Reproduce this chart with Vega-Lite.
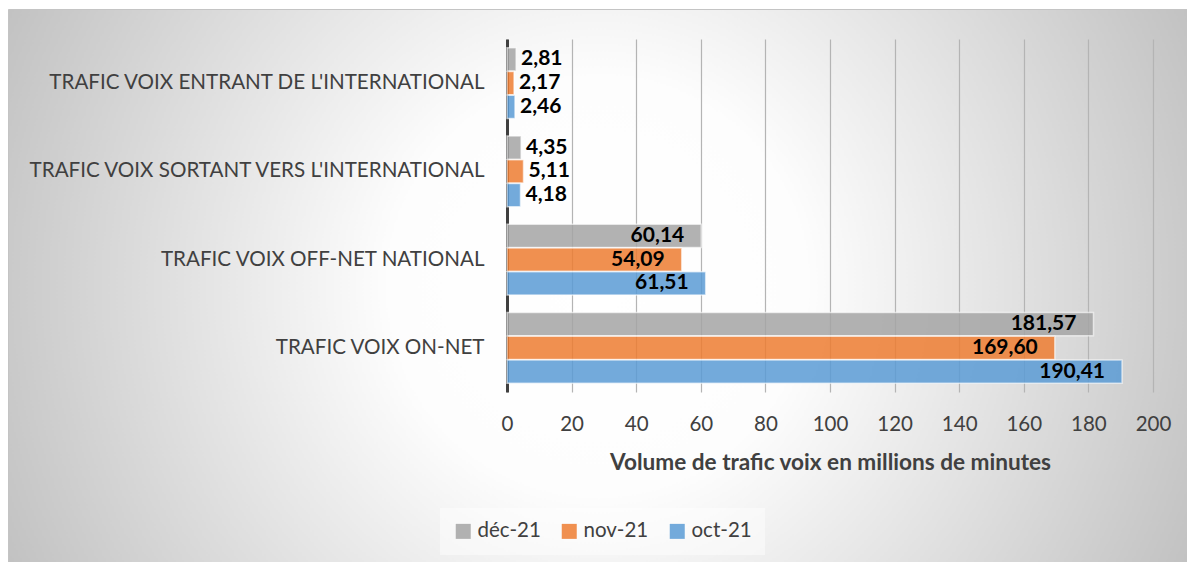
{
  "$schema": "https://vega.github.io/schema/vega-lite/v6.json",
  "width": 1179,
  "height": 553,
  "autosize": "none",
  "padding": {"left": 8, "top": 9, "right": 0, "bottom": 0},
  "background": "#ffffff",
  "data": {
    "values": [
      {"categorie": "TRAFIC VOIX ENTRANT DE L'INTERNATIONAL", "periode": "déc-21", "valeur": 2.81},
      {"categorie": "TRAFIC VOIX ENTRANT DE L'INTERNATIONAL", "periode": "nov-21", "valeur": 2.17},
      {"categorie": "TRAFIC VOIX ENTRANT DE L'INTERNATIONAL", "periode": "oct-21", "valeur": 2.46},
      {"categorie": "TRAFIC VOIX SORTANT VERS L'INTERNATIONAL", "periode": "déc-21", "valeur": 4.35},
      {"categorie": "TRAFIC VOIX SORTANT VERS L'INTERNATIONAL", "periode": "nov-21", "valeur": 5.11},
      {"categorie": "TRAFIC VOIX SORTANT VERS L'INTERNATIONAL", "periode": "oct-21", "valeur": 4.18},
      {"categorie": "TRAFIC VOIX OFF-NET NATIONAL", "periode": "déc-21", "valeur": 60.14},
      {"categorie": "TRAFIC VOIX OFF-NET NATIONAL", "periode": "nov-21", "valeur": 54.09},
      {"categorie": "TRAFIC VOIX OFF-NET NATIONAL", "periode": "oct-21", "valeur": 61.51},
      {"categorie": "TRAFIC VOIX ON-NET", "periode": "déc-21", "valeur": 181.57},
      {"categorie": "TRAFIC VOIX ON-NET", "periode": "nov-21", "valeur": 169.60},
      {"categorie": "TRAFIC VOIX ON-NET", "periode": "oct-21", "valeur": 190.41}
    ]
  },
  "encoding": {
    "y": {
      "field": "categorie",
      "type": "nominal",
      "sort": ["TRAFIC VOIX ENTRANT DE L'INTERNATIONAL", "TRAFIC VOIX SORTANT VERS L'INTERNATIONAL", "TRAFIC VOIX OFF-NET NATIONAL", "TRAFIC VOIX ON-NET"],
      "scale": {"range": [30, 383], "paddingInner": 0.2, "paddingOuter": 0.1},
      "axis": {
        "orient": "left",
        "offset": -499,
        "title": null,
        "ticks": false,
        "tickSize": 0,
        "domain": true,
        "domainColor": "#404040",
        "domainWidth": 3,
        "grid": false,
        "labelFont": "Lato",
        "labelFontSize": 20.6,
        "labelColor": "#404040",
        "labelPadding": 23,
        "labelLimit": 700
      }
    },
    "yOffset": {
      "field": "periode",
      "type": "nominal",
      "sort": ["déc-21", "nov-21", "oct-21"],
      "scale": {"paddingInner": 0.03}
    },
    "x": {
      "field": "valeur",
      "type": "quantitative",
      "scale": {"domain": [0, 200], "range": [499, 1145], "nice": false},
      "axis": {
        "orient": "top",
        "offset": -383,
        "values": [0, 20, 40, 60, 80, 100, 120, 140, 160, 180, 200],
        "format": "d",
        "domain": false,
        "ticks": false,
        "tickSize": 0,
        "grid": true,
        "gridColor": "#b4b4b4",
        "gridWidth": 1.2,
        "labelFont": "Lato",
        "labelFontSize": 20.5,
        "labelColor": "#404040",
        "labelPadding": -32,
        "labelBaseline": "middle",
        "labelFlush": false,
        "labelOverlap": false,
        "title": "Volume de trafic voix en millions de minutes",
        "titleFont": "Lato",
        "titleFontSize": 22.6,
        "titleFontWeight": "bold",
        "titleColor": "#404040",
        "titleBaseline": "middle",
        "titleY": 70
      }
    }
  },
  "layer": [
    {
      "mark": {"type": "bar", "fillOpacity": 0.85, "stroke": "#ffffff", "strokeWidth": 1.5, "strokeOpacity": 0.6},
      "encoding": {
        "color": {
          "field": "periode",
          "type": "nominal",
          "sort": ["déc-21", "nov-21", "oct-21"],
          "scale": {"domain": ["déc-21", "nov-21", "oct-21"], "range": ["#A5A5A5", "#ED7D31", "#5B9BD5"]},
          "legend": {
            "title": null,
            "orient": "none",
            "legendX": 432,
            "legendY": 499,
            "direction": "horizontal",
            "symbolType": "square",
            "symbolSize": 225,
            "symbolStrokeWidth": 0,
            "symbolOpacity": 0.85,
            "labelFont": "Lato",
            "labelFontSize": 20.5,
            "labelColor": "#404040",
            "labelOffset": 4,
            "columnPadding": 18,
            "padding": 13,
            "fillColor": "rgba(255,255,255,0.45)"
          }
        }
      }
    },
    {
      "transform": [{"filter": "datum.valeur < 10"}],
      "mark": {"type": "text", "align": "left", "baseline": "middle", "dx": 5, "font": "Lato", "fontSize": 21, "fontWeight": "bold", "color": "#000000"},
      "encoding": {"text": {"field": "valeur", "type": "quantitative", "format": ".2f"}}
    },
    {
      "transform": [{"filter": "datum.valeur >= 10"}],
      "mark": {"type": "text", "align": "right", "baseline": "middle", "dx": -17, "font": "Lato", "fontSize": 21, "fontWeight": "bold", "color": "#000000"},
      "encoding": {"text": {"field": "valeur", "type": "quantitative", "format": ".2f"}}
    }
  ],
  "config": {
    "font": "Lato",
    "locale": {"number": {"decimal": ",", "thousands": " ", "grouping": [3], "currency": ["", " €"]}},
    "view": {
      "stroke": "#c4c4c4",
      "strokeWidth": 1,
      "fill": {
        "gradient": "radial",
        "x1": 0.5, "y1": 0.5, "r1": 0,
        "x2": 0.5, "y2": 0.5, "r2": 0.55,
        "stops": [
          {"offset": 0, "color": "#ffffff"},
          {"offset": 0.32, "color": "#fdfdfd"},
          {"offset": 1, "color": "#c2c2c2"}
        ]
      }
    }
  }
}
